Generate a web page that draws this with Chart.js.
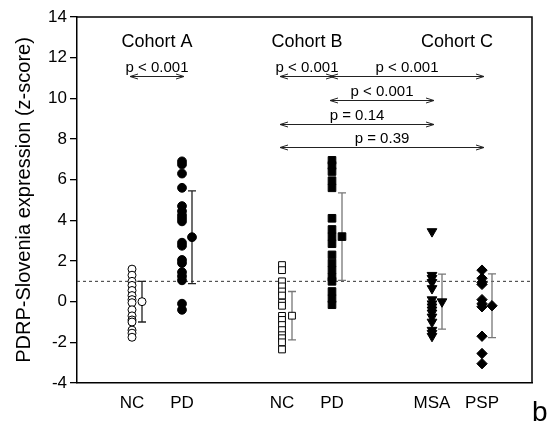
<!DOCTYPE html>
<html>
<head>
<meta charset="utf-8">
<script src="https://cdn.jsdelivr.net/npm/chart.js@4.4.1/dist/chart.umd.min.js"></script>
<style>
body{margin:0;background:#fff;}
#box{width:547px;height:425px;}
</style>
</head>
<body>
<div id="box"><canvas id="PdrpChart" width="547" height="425"></canvas></div>
<script>
//x positions and names of the groups
var groupX = [1, 2, 4, 5, 7, 8];
var groupNames = ['NC', 'PD', 'NC', 'PD', 'MSA', 'PSP'];

//cohort headers, sit over the middle of their groups
var cohortNames = ['Cohort A', 'Cohort B', 'Cohort C'];
var cohortX = [1.5, 4.5, 7.5];
var cohortY = 12.8;

//single subject z-scores
var ncA = [1.6, 1.3, 1.0, 0.8, 0.55, 0.3, 0.1, -0.05, -0.4, -0.7, -0.9, -1.0, -1.4, -1.55, -1.75];
var pdA = [6.9, 6.75, 6.3, 5.6, 4.7, 4.45, 4.25, 4.1, 3.95, 2.9, 2.75, 2.05, 1.9, 1.45, 1.25, 1.05, -0.1, -0.4];
var ncB = [1.8, 1.55, 1.0, 0.75, 0.5, 0.3, -0.05, -0.2, -0.7, -0.9, -1.15, -1.4, -1.65, -1.8, -2.0, -2.35];
var pdB = [6.95, 6.7, 6.4, 5.95, 5.6, 4.1, 3.55, 3.2, 2.85, 2.3, 1.9, 1.55, 1.2, 1.0, 0.5, 0.15, -0.15];
var msa = [3.45, 1.3, 1.15, 0.95, 0.65, 0.1, -0.1, -0.25, -0.4, -0.55, -0.75, -1.0, -1.4, -1.55, -1.7];
var psp = [1.55, 1.15, 0.95, 0.85, 0.1, -0.1, -0.25, -1.7, -2.55, -3.05];

//group mean and standard deviation
var groupMeans = [0.0, 3.17, -0.69, 3.2, 0.0, -0.2];
var groupSD = [1.0, 2.28, 1.19, 2.15, 1.35, 1.57];

//pairwise comparisons (from group x, to group x, bracket height, label)
var compFrom = [1, 4, 5, 5, 4, 4];
var compTo = [2, 5, 8, 7, 7, 8];
var compLevel = [11.1, 11.1, 11.1, 9.92, 8.74, 7.62];
var compText = ['p < 0.001', 'p < 0.001', 'p < 0.001', 'p < 0.001', 'p = 0.14', 'p = 0.39'];

var refLine = 1;
var panelLetter = 'b';

var groupValues = [ncA, pdA, ncB, pdB, msa, psp];
var FONT = '"Liberation Sans", Arial, sans-serif';
var meanShift = 0.2; //mean marker sits right of the column

//marker look per group
var looks = [
	{style: 'circle', r: 4, fill: '#fff', bar: '#222', rot: 0},
	{style: 'circle', r: 4.4, fill: '#000', bar: '#222', rot: 0},
	{style: 'rect', r: 4.8, fill: '#fff', bar: '#777', rot: 0},
	{style: 'rect', r: 5.4, fill: '#000', bar: '#777', rot: 0},
	{style: 'triangle', r: 5.6, fill: '#000', bar: '#777', rot: 180},
	{style: 'rectRot', r: 5.2, fill: '#000', bar: '#777', rot: 0}
];

function buildSets() {
	var sets = [];
	for (var i = 0; i < groupValues.length; i++) {
		var pts = groupValues[i].map(function (v) { return {x: groupX[i], y: v}; });
		sets.push({
			data: pts,
			pointStyle: looks[i].style,
			pointRadius: looks[i].r,
			pointRotation: looks[i].rot,
			backgroundColor: looks[i].fill,
			borderColor: '#000',
			borderWidth: 1
		});
		//mean marker
		sets.push({
			data: [{x: groupX[i] + meanShift, y: groupMeans[i]}],
			pointStyle: looks[i].style,
			pointRadius: looks[i].r,
			pointRotation: looks[i].rot,
			backgroundColor: looks[i].fill,
			borderColor: '#000',
			borderWidth: 1
		});
	}
	return sets;
}

//double headed arrow for a comparison
function arrowLine(ctx, x1, x2, y) {
	ctx.beginPath();
	ctx.moveTo(x1, y); ctx.lineTo(x2, y);
	ctx.moveTo(x1 + 8, y - 2.5); ctx.lineTo(x1, y); ctx.lineTo(x1 + 8, y + 2.5);
	ctx.moveTo(x2 - 8, y - 2.5); ctx.lineTo(x2, y); ctx.lineTo(x2 - 8, y + 2.5);
	ctx.stroke();
}

var extras = {
	id: 'extras',
	beforeDatasetsDraw: function (chart) {
		var ctx = chart.ctx, xs = chart.scales.x, ys = chart.scales.y, a = chart.chartArea;
		ctx.save();
		//dashed line at z = 1
		var yy = ys.getPixelForValue(refLine);
		ctx.strokeStyle = '#333';
		ctx.lineWidth = 1;
		ctx.setLineDash([3, 3]);
		ctx.beginPath(); ctx.moveTo(a.left, yy); ctx.lineTo(a.right, yy); ctx.stroke();
		ctx.setLineDash([]);
		//mean +/- sd bars
		for (var i = 0; i < groupMeans.length; i++) {
			var px = xs.getPixelForValue(groupX[i] + meanShift);
			var top = ys.getPixelForValue(groupMeans[i] + groupSD[i]);
			var bot = ys.getPixelForValue(groupMeans[i] - groupSD[i]);
			ctx.strokeStyle = looks[i].bar;
			ctx.lineWidth = 1.3;
			ctx.beginPath();
			ctx.moveTo(px, top); ctx.lineTo(px, bot);
			ctx.moveTo(px - 4, top); ctx.lineTo(px + 4, top);
			ctx.moveTo(px - 4, bot); ctx.lineTo(px + 4, bot);
			ctx.stroke();
		}
		ctx.restore();
	},
	afterDraw: function (chart) {
		var ctx = chart.ctx, xs = chart.scales.x, ys = chart.scales.y, a = chart.chartArea;
		ctx.save();
		//close the box on top and right
		ctx.strokeStyle = '#000';
		ctx.lineWidth = 1.5;
		ctx.beginPath();
		ctx.moveTo(a.left, a.top); ctx.lineTo(a.right, a.top); ctx.lineTo(a.right, a.bottom);
		ctx.stroke();
		ctx.fillStyle = '#000';
		ctx.textAlign = 'center';
		ctx.textBaseline = 'alphabetic';
		//cohort headers
		ctx.font = '18px ' + FONT;
		for (var c = 0; c < cohortNames.length; c++) {
			ctx.fillText(cohortNames[c], xs.getPixelForValue(cohortX[c]), ys.getPixelForValue(cohortY) + 6);
		}
		//comparison arrows and p values
		ctx.font = '15px ' + FONT;
		ctx.strokeStyle = '#222';
		ctx.lineWidth = 1;
		for (var k = 0; k < compText.length; k++) {
			var x1 = xs.getPixelForValue(compFrom[k]) - 2;
			var x2 = xs.getPixelForValue(compTo[k]) + 2;
			var y = Math.round(ys.getPixelForValue(compLevel[k])) + 0.5;
			arrowLine(ctx, x1, x2, y);
			ctx.fillText(compText[k], (x1 + x2) / 2, y - 4.5);
		}
		//panel letter
		ctx.font = '28px ' + FONT;
		ctx.textAlign = 'left';
		ctx.fillText(panelLetter, 532, 421);
		ctx.restore();
	}
};

new Chart('PdrpChart', {
	type: 'scatter',
	data: {datasets: buildSets()},
	options: {
		responsive: false,
		animation: false,
		devicePixelRatio: 1,
		events: [],
		layout: {padding: {left: 0, top: 17, right: 15, bottom: 0}},
		plugins: {legend: {display: false}, tooltip: {enabled: false}},
		scales: {
			x: {
				type: 'linear',
				min: -0.1,
				max: 9.0,
				afterBuildTicks: function (axis) {
					axis.ticks = groupX.map(function (v) { return {value: v}; });
				},
				afterFit: function (axis) { axis.height = 42; },
				ticks: {
					autoSkip: false,
					maxRotation: 0,
					padding: 2,
					color: '#000',
					font: {family: FONT, size: 17},
					callback: function (v) { return groupNames[groupX.indexOf(v)]; }
				},
				grid: {display: false},
				border: {display: true, color: '#000', width: 1.5}
			},
			y: {
				min: -4,
				max: 14,
				afterFit: function (axis) { axis.width = 77; },
				ticks: {
					stepSize: 2,
					padding: 3,
					color: '#000',
					font: {family: FONT, size: 17}
				},
				grid: {drawOnChartArea: false, drawTicks: true, tickLength: 7, color: '#000', lineWidth: 1.3},
				border: {display: true, color: '#000', width: 1.5},
				title: {
					display: true,
					text: 'PDRP-Slovenia expression (z-score)',
					color: '#000',
					font: {family: FONT, size: 20},
					padding: {top: 12, bottom: 0}
				}
			}
		}
	},
	plugins: [extras]
});
</script>
</body>
</html>
